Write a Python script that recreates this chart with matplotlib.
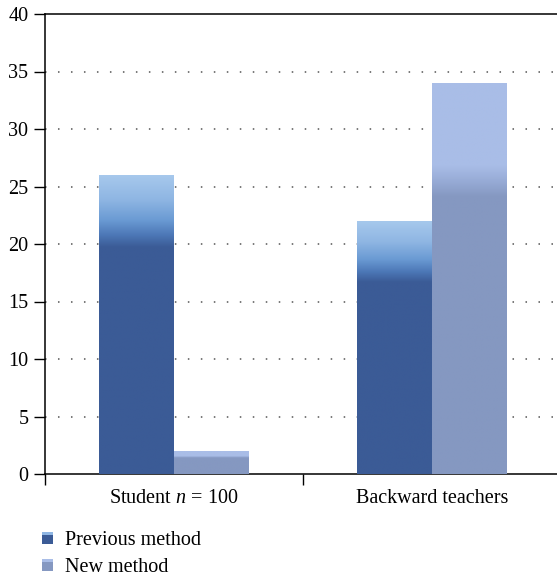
import numpy as np
import matplotlib
matplotlib.use("Agg")
import matplotlib.pyplot as plt
from matplotlib.colors import LinearSegmentedColormap
from matplotlib.patches import Rectangle
from matplotlib.legend_handler import HandlerBase

categories = ["Student $n$ = 100", "Backward teachers"]
previous_method = [26, 22]
new_method = [2, 34]
series_names = ["Previous method", "New method"]
y_ticks = [0, 5, 10, 15, 20, 25, 30, 35, 40]

plt.rcParams["font.family"] = ["Liberation Serif", "DejaVu Serif"]
plt.rcParams["mathtext.fontset"] = "custom"
plt.rcParams["mathtext.it"] = "Liberation Serif:italic"
plt.rcParams["mathtext.rm"] = "Liberation Serif"

FS = 14.5

# colour ramps along each bar, from its top (0) to its base (1)
prev_cmap = LinearSegmentedColormap.from_list(
    "prev",
    [(0.0, "#a6c8ec"), (0.08, "#8fb6e3"), (0.15, "#6a9ad3"),
     (0.20, "#4c77b6"), (0.24, "#3b5b96"), (1.0, "#3b5b96")])
new_cmap = LinearSegmentedColormap.from_list(
    "new",
    [(0.0, "#a9bde7"), (0.21, "#a9bde7"), (0.25, "#97abd6"),
     (0.29, "#8598c1"), (1.0, "#8598c1")])
prev_solid = "#3b5b96"
new_solid = "#8598c1"

fig = plt.figure(figsize=(5.57, 5.80), dpi=100)
ax = fig.add_axes([45 / 557, 106 / 580, 1 - 45 / 557, 460 / 580])

x = np.arange(len(categories))
width = 0.29
ramp = np.linspace(0, 1, 256).reshape(-1, 1)


def gradient_bars(xpos, values, cmap, solid):
    bars = ax.bar(xpos, values, width=width, color=solid, zorder=3,
                  linewidth=0)
    for b in bars:
        x0, y0 = b.get_x(), b.get_y()
        ax.imshow(ramp, cmap=cmap, aspect="auto", zorder=4,
                  extent=(x0, x0 + b.get_width(), y0, y0 + b.get_height()),
                  interpolation="bilinear", origin="upper")
    return bars


gradient_bars(x - width / 2, previous_method, prev_cmap, prev_solid)
gradient_bars(x + width / 2, new_method, new_cmap, new_solid)

ax.set_xlim(-0.5, 1.484)
ax.set_ylim(0, 40)
ax.set_yticks(y_ticks)
ax.set_yticklabels([str(t) for t in y_ticks])
ax.set_xticks([-0.5, 0.5])
ax.set_xticklabels([])
ax.set_xticks(x, minor=True)
ax.set_xticklabels(categories, minor=True)
ax.tick_params(axis="x", which="minor", length=0, pad=11, labelsize=FS)
ax.tick_params(axis="x", which="major", length=8, width=1, direction="out")
ax.tick_params(axis="y", length=8, width=1, direction="out", pad=4,
               labelsize=FS)

for yv in y_ticks[1:-1]:
    ax.axhline(yv, color="#555555", linewidth=1.1,
               linestyle=(0, (1, 7.5)), zorder=1)

for side in ("left", "bottom", "top"):
    ax.spines[side].set_linewidth(1.1)
    ax.spines[side].set_color("black")
ax.spines["right"].set_visible(False)


class SwatchHandler(HandlerBase):
    def __init__(self, light, dark):
        super().__init__()
        self.light = light
        self.dark = dark

    def create_artists(self, legend, orig_handle, xdescent, ydescent,
                       width, height, fontsize, trans):
        base = Rectangle((-xdescent, -ydescent), width, height,
                         facecolor=self.dark, edgecolor="none",
                         transform=trans)
        top = Rectangle((-xdescent, -ydescent + height * 0.72), width,
                        height * 0.28, facecolor=self.light,
                        edgecolor="none", transform=trans)
        return [base, top]


h_prev = Rectangle((0, 0), 1, 1)
h_new = Rectangle((0, 0), 1, 1)
fig.legend([h_prev, h_new], series_names, loc="upper left",
           bbox_to_anchor=(24 / 557, 1 - 513 / 580), frameon=False,
           fontsize=FS, handlelength=0.55, handleheight=0.55,
           handletextpad=0.6, labelspacing=0.38, borderpad=0.4,
           handler_map={h_prev: SwatchHandler("#8fb6e3", prev_solid),
                        h_new: SwatchHandler("#a9bde7", new_solid)})

fig.savefig("out.png", dpi=100)
